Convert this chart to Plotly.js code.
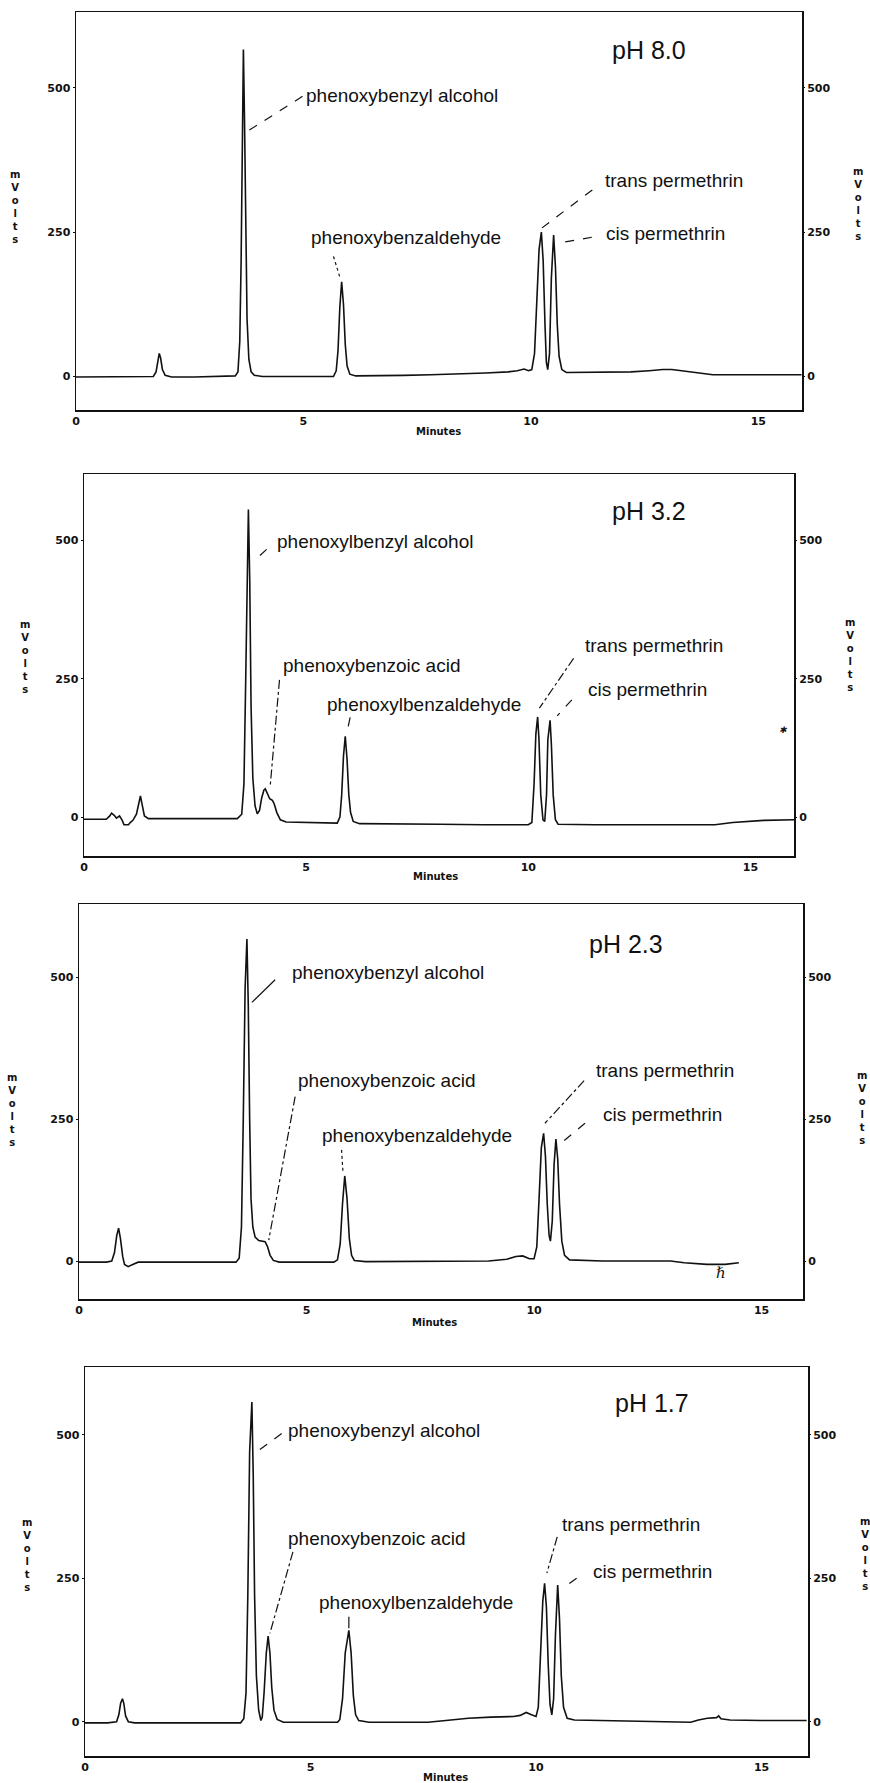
<!DOCTYPE html>
<html><head><meta charset="utf-8">
<script src="https://cdn.plot.ly/plotly-3.0.1.min.js"></script>
<style>html,body{margin:0;padding:0;background:#fff}#c{width:870px;height:1783px}</style>
</head><body><div id="c"></div>
<script>
// ---- data (minutes, mVolts) ----
const t1 = [0,0.5,1.0,1.5,1.7,1.76,1.8,1.83,1.86,1.9,1.96,2.1,2.6,3.0,3.45,3.5,3.56,3.6,3.63,3.655,3.68,3.705,3.73,3.76,3.8,3.85,3.92,4.1,4.6,5.0,5.5,5.66,5.72,5.76,5.8,5.84,5.88,5.92,5.96,6.02,6.15,6.6,7.2,7.8,8.4,9.0,9.5,9.7,9.85,9.95,10.02,10.08,10.13,10.18,10.23,10.27,10.31,10.34,10.37,10.41,10.45,10.5,10.54,10.58,10.62,10.68,10.78,11.0,11.6,12.2,12.6,12.9,13.1,13.3,13.6,14.0,15.0,15.95];
const v1 = [-1,-1,0,0,0,8,30,40,32,12,2,-1,-1,0,0,1,8,60,200,420,566,440,240,100,30,8,2,0,0,0,0,0,10,45,120,164,125,55,18,4,1,1,2,3,4,6,8,10,13,10,12,40,130,220,250,200,90,25,12,40,170,245,190,90,35,12,7,7,7,8,10,12,12,10,6,3,3,3];

const t2 = [0,0.5,0.58,0.62,0.68,0.73,0.8,0.86,0.9,1.0,1.04,1.1,1.18,1.23,1.27,1.31,1.36,1.45,2.0,3.0,3.45,3.55,3.6,3.64,3.67,3.7,3.73,3.76,3.8,3.85,3.9,3.95,4.0,4.05,4.08,4.13,4.18,4.24,4.28,4.34,4.42,4.55,5.0,5.5,5.7,5.76,5.8,5.84,5.88,5.92,5.96,6.0,6.06,6.2,7.0,8.0,9.0,10.0,10.08,10.13,10.17,10.21,10.24,10.28,10.33,10.37,10.41,10.44,10.49,10.52,10.56,10.61,10.67,11.5,13.0,14.2,14.6,15.0,15.3,15.98];
const v2 = [-4,-4,2,7,3,-2,2,-6,-14,-14,-10,-6,5,25,38,22,2,-3,-3,-3,-3,5,60,250,450,556,430,200,70,20,6,12,35,49,51,42,33,30,24,8,-5,-9,-10,-11,-11,0,40,110,146,105,40,8,-8,-12,-13,-13,-14,-14,-10,60,150,181,140,40,-5,-8,40,140,175,130,40,-5,-13,-14,-14,-14,-10,-8,-6,-5];

const t3 = [0,0.6,0.72,0.78,0.83,0.87,0.91,0.96,1.0,1.08,1.18,1.3,2.0,3.0,3.45,3.52,3.57,3.61,3.65,3.69,3.72,3.75,3.78,3.82,3.87,3.95,4.03,4.09,4.14,4.2,4.27,4.4,5.0,5.6,5.68,5.74,5.79,5.84,5.89,5.94,5.99,6.05,6.3,7.0,8.0,9.0,9.4,9.6,9.75,9.9,10.0,10.06,10.11,10.16,10.21,10.25,10.29,10.33,10.36,10.4,10.44,10.48,10.52,10.56,10.61,10.67,10.78,11.5,13.0,13.3,13.8,14.2,14.5];
const v3 = [-2,-2,0,15,45,58,40,8,-6,-10,-6,-2,-2,-2,-2,5,60,250,480,568,450,250,110,60,42,36,35,34,26,10,1,-2,-2,-2,2,30,100,150,110,40,10,1,-1,-1,0,0,3,8,9,4,4,25,110,200,225,185,100,45,35,70,170,215,180,100,35,10,2,0,0,-3,-6,-6,-3];

const t4 = [0,0.5,0.7,0.75,0.79,0.83,0.86,0.9,0.96,1.1,2.0,3.0,3.45,3.52,3.57,3.61,3.65,3.7,3.73,3.76,3.8,3.85,3.9,3.93,3.97,4.02,4.06,4.1,4.14,4.19,4.26,4.4,5.0,5.6,5.65,5.71,5.77,5.85,5.9,5.95,6.0,6.07,6.3,7.0,7.6,8.0,8.5,9.0,9.5,9.65,9.78,9.9,10.0,10.05,10.1,10.15,10.19,10.23,10.27,10.31,10.35,10.39,10.43,10.46,10.48,10.52,10.56,10.61,10.69,10.85,11.5,12.5,13.0,13.43,13.6,13.8,14.0,14.05,14.1,14.3,15.0,16.0];
const v4 = [-2,-2,0,12,32,40,32,10,0,-2,-2,-2,-2,5,50,220,470,557,430,220,80,20,2,8,50,120,149,120,60,20,4,-1,-1,-1,4,40,120,159,120,45,12,2,-1,-1,-1,2,6,8,9,11,16,12,9,25,110,210,241,200,100,30,12,40,150,220,238,180,80,25,6,3,2,1,0,-1,3,6,7,10,5,3,2,2];

const panelTitles = ["pH 8.0","pH 3.2","pH 2.3","pH 1.7"];
const yTickVals = [0,250,500];
const yTickText = ["0","250","500"];
const xTickVals = [0,5,10,15];
const xTickText = ["0","5","10","15"];
const labels1 = ["phenoxybenzyl alcohol","phenoxybenzaldehyde","trans permethrin","cis permethrin"];
const labels2 = ["phenoxylbenzyl alcohol","phenoxybenzoic acid","phenoxylbenzaldehyde","trans permethrin","cis permethrin"];
const labels3 = ["phenoxybenzyl alcohol","phenoxybenzoic acid","phenoxybenzaldehyde","trans permethrin","cis permethrin"];
const labels4 = ["phenoxybenzyl alcohol","phenoxybenzoic acid","phenoxylbenzaldehyde","trans permethrin","cis permethrin"];

// ---- layout geometry (pixels) ----
const W = 870, H = 1783;
const boxes = [
  {l:76, r:802, t:12,  b:410,  xr:[0,15.96], yr:[-58,631],   mvL:[15,207],  mvR:[858,204],  min:[438,431]},
  {l:84, r:794, t:474, b:856,  xr:[0,15.98], yr:[-70.5,620.3], mvL:[25,657], mvR:[850,655],  min:[436,876]},
  {l:79, r:803, t:904, b:1299, xr:[0,15.91], yr:[-67,629.6], mvL:[12,1110], mvR:[862,1108], min:[434,1322]},
  {l:85, r:808, t:1367,b:1756, xr:[0,16.03], yr:[-59.8,618], mvL:[27,1555], mvR:[865,1554], min:[445,1777]}
];
const series = [[t1,v1],[t2,v2],[t3,v3],[t4,v4]];

// label placements [text, x, y, leader x0,y0,x1,y1, dash]
const place = [
  [[labels1[0],5.04,487,4.98,485,3.76,424,'dash'],
   [labels1[1],5.15,240,5.66,208,5.80,172,'dot'],
   [labels1[2],11.61,340,11.35,323,10.24,257,'dash'],
   [labels1[3],11.63,248,11.34,241,10.59,231,'dash']],
  [[labels2[0],4.32,498,4.11,484,3.81,462,'dash'],
   [labels2[1],4.45,274,4.40,248,4.19,55,'dashdot'],
   [labels2[2],5.45,204,5.99,180,5.92,154,'dash'],
   [labels2[3],11.25,311,11.02,287,10.25,197,'dashdot'],
   [labels2[4],11.32,230,10.98,212,10.65,183,'dash']],
  [[labels3[0],4.66,508,4.31,496,3.80,456,'solid'],
   [labels3[1],4.80,319,4.75,290,4.17,37,'dashdot'],
   [labels3[2],5.32,222,5.77,196,5.80,158,'dot'],
   [labels3[3],11.34,336,11.10,318,10.24,243,'dashdot'],
   [labels3[4],11.49,258,11.12,243,10.61,209,'dash']],
  [[labels4[0],4.47,508,4.36,502,3.77,468,'dash'],
   [labels4[1],4.47,320,4.61,296,4.10,154,'dashdot'],
   [labels4[2],5.17,207,5.85,183,5.85,163,'solid'],
   [labels4[3],10.55,344,10.47,322,10.24,259,'dashdot'],
   [labels4[4],11.23,261,10.90,250,10.64,235,'dash']]
];
const titlePos = [[12.6,565],[12.71,553],[12.03,559],[12.57,555]];
// stray scan marks [panel index, text, x, y, size]
const marks = [[1,'✱',15.74,157,9],[2,'ℏ',14.1,-22,15]];

const tickFont = {family:'DejaVu Sans', size:11, color:'#111', weight:'bold'};
const labFont = {family:'Liberation Sans, Arial, sans-serif', size:19, color:'#111'};
const smallBold = {family:'DejaVu Sans', size:10, color:'#111', weight:'bold'};

const traces = [], annotations = [], shapes = [];
const layout = {width:W, height:H, margin:{l:0,r:0,t:0,b:0}, paper_bgcolor:'#fff', plot_bgcolor:'#fff', showlegend:false};
const axName = (n)=>({xa:'x'+(n===1?'':n), ya:'y'+((2*n-1)===1?'':(2*n-1))});

boxes.forEach((b,i)=>{
  const n = i+1;
  const xa = 'x'+(n===1?'':n), xk = 'xaxis'+(n===1?'':n);
  const yl = 2*n-1, yr = 2*n;
  const yaL = 'y'+(yl===1?'':yl), ykL = 'yaxis'+(yl===1?'':yl);
  const yaR = 'y'+yr, ykR = 'yaxis'+yr;
  const xd = [b.l/W, b.r/W], yd = [1-b.b/H, 1-b.t/H];
  layout[xk] = {domain:xd, range:b.xr, anchor:yaL, showgrid:false, zeroline:false, showline:true, mirror:true,
    linecolor:'#111', linewidth:1.5, tickvals:xTickVals, ticktext:xTickText, ticks:'', tickfont:tickFont, fixedrange:true};
  layout[ykL] = {domain:yd, range:b.yr, anchor:xa, showgrid:false, zeroline:false, showline:true, mirror:true,
    linecolor:'#111', linewidth:1.5, tickvals:yTickVals, ticktext:yTickText, ticks:'outside', ticklen:2, tickcolor:'#111', tickfont:tickFont, fixedrange:true};
  layout[ykR] = {domain:yd, range:b.yr, anchor:xa, overlaying:yaL, side:'right', showgrid:false, zeroline:false, showline:false,
    tickvals:yTickVals, ticktext:yTickText, ticks:'outside', ticklen:2, tickcolor:'#111', tickfont:tickFont, fixedrange:true};
  traces.push({x:series[i][0], y:series[i][1], xaxis:xa, yaxis:yaL, type:'scatter', mode:'lines',
    line:{color:'#111', width:1.6}, hoverinfo:'skip'});
  traces.push({x:[null], y:[null], xaxis:xa, yaxis:yaR, type:'scatter', mode:'lines', hoverinfo:'skip'});
  annotations.push({text:panelTitles[i], x:titlePos[i][0], y:titlePos[i][1], xref:xa, yref:yaL, showarrow:false,
    xanchor:'center', yanchor:'middle', font:{family:'Liberation Sans, Arial, sans-serif', size:25, color:'#111'}});
  place[i].forEach(p=>{
    annotations.push({text:p[0], x:p[1], y:p[2], xref:xa, yref:yaL, showarrow:false, xanchor:'left', yanchor:'middle', font:labFont, borderpad:0});
    shapes.push({type:'line', xref:xa, yref:yaL, x0:p[3], y0:p[4], x1:p[5], y1:p[6], line:{color:'#111', width:1.2, dash:p[7]}});
  });
  const mv = 'm<br>V<br>o<br>l<br>t<br>s';
  annotations.push({text:mv, x:b.mvL[0]/W, y:1-b.mvL[1]/H, xref:'paper', yref:'paper', showarrow:false, xanchor:'center', yanchor:'middle', font:smallBold});
  annotations.push({text:mv, x:b.mvR[0]/W, y:1-b.mvR[1]/H, xref:'paper', yref:'paper', showarrow:false, xanchor:'center', yanchor:'middle', font:smallBold});
  annotations.push({text:'Minutes', x:b.min[0]/W, y:1-b.min[1]/H, xref:'paper', yref:'paper', showarrow:false, xanchor:'center', yanchor:'middle', font:smallBold});
});
marks.forEach(m=>{
  const a = axName(m[0]+1);
  annotations.push({text:m[1], x:m[2], y:m[3], xref:a.xa, yref:a.ya, showarrow:false, xanchor:'center', yanchor:'middle',
    font:{family:'DejaVu Serif', size:m[4], color:'#111', style:'italic'}});
});
layout.annotations = annotations;
layout.shapes = shapes;
Plotly.newPlot('c', traces, layout, {staticPlot:true, displayModeBar:false});
</script>
</body></html>
